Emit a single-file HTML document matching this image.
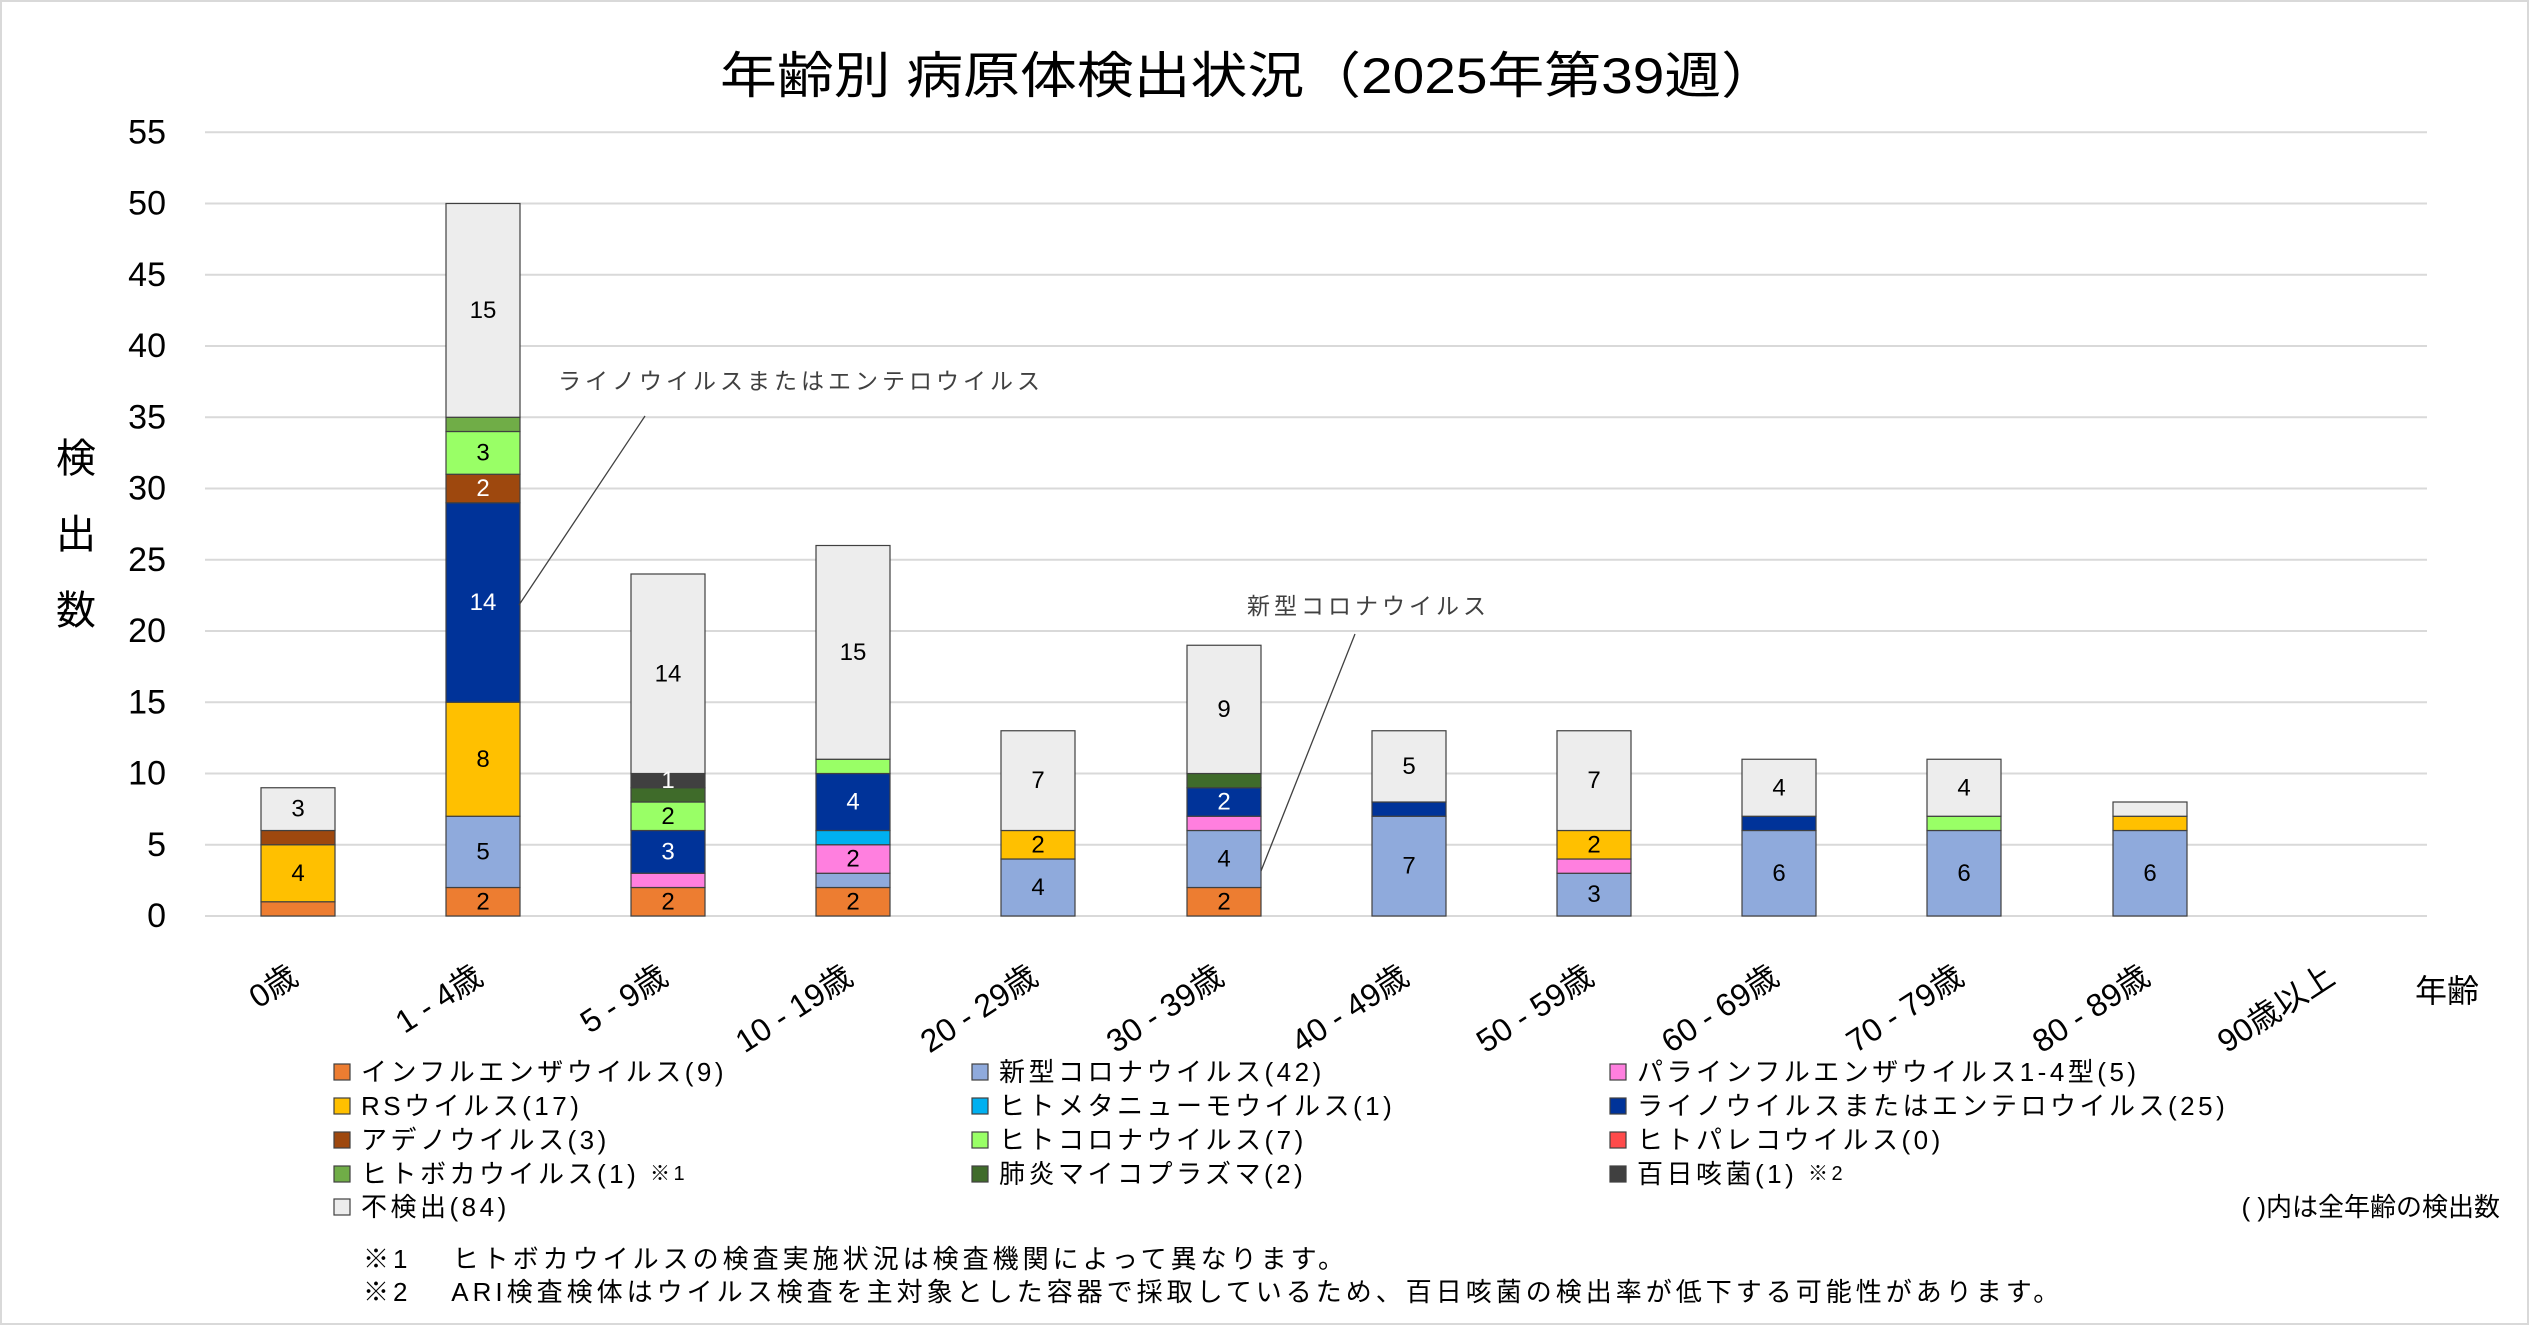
<!DOCTYPE html>
<html><head><meta charset="utf-8"><style>
html,body{margin:0;padding:0;background:#fff}
svg{display:block}
text{font-family:"Liberation Sans","Noto Sans CJK JP",sans-serif}
</style></head><body>
<svg width="2529" height="1325" viewBox="0 0 2529 1325" xmlns="http://www.w3.org/2000/svg">
<rect x="0" y="0" width="2529" height="1325" fill="#fff"/>
<rect x="1" y="1" width="2527" height="1323" fill="none" stroke="#d9d9d9" stroke-width="2"/>
<text x="1249" y="93" font-size="50" text-anchor="middle" fill="#000" textLength="1058" lengthAdjust="spacingAndGlyphs">年齢別 病原体検出状況（2025年第39週）</text>
<g stroke="#d9d9d9" stroke-width="2">
<line x1="205" x2="2427" y1="916" y2="916"/><line x1="205" x2="2427" y1="844.75" y2="844.75"/>
<line x1="205" x2="2427" y1="773.5" y2="773.5"/><line x1="205" x2="2427" y1="702.25" y2="702.25"/>
<line x1="205" x2="2427" y1="631" y2="631"/><line x1="205" x2="2427" y1="559.75" y2="559.75"/>
<line x1="205" x2="2427" y1="488.5" y2="488.5"/><line x1="205" x2="2427" y1="417.25" y2="417.25"/>
<line x1="205" x2="2427" y1="346" y2="346"/><line x1="205" x2="2427" y1="274.75" y2="274.75"/>
<line x1="205" x2="2427" y1="203.5" y2="203.5"/><line x1="205" x2="2427" y1="132.25" y2="132.25"/>
</g>
<g font-size="34" text-anchor="end" fill="#000" dominant-baseline="central">
<text x="166" y="916">0</text><text x="166" y="844.75">5</text><text x="166" y="773.5">10</text>
<text x="166" y="702.25">15</text><text x="166" y="631">20</text><text x="166" y="559.75">25</text>
<text x="166" y="488.5">30</text><text x="166" y="417.25">35</text><text x="166" y="346">40</text>
<text x="166" y="274.75">45</text><text x="166" y="203.5">50</text><text x="166" y="132.25">55</text>
</g>
<g font-size="40" text-anchor="middle" fill="#000">
<text x="76" y="472">検</text><text x="76" y="548">出</text><text x="76" y="624">数</text>
</g>
<g stroke="#404040" stroke-width="1.2">
<rect x="261" y="901.75" width="74" height="14.25" fill="#ED7D31"/>
<rect x="261" y="844.75" width="74" height="57" fill="#FFC000"/>
<rect x="261" y="830.5" width="74" height="14.25" fill="#9E480E"/>
<rect x="261" y="787.75" width="74" height="42.75" fill="#EDEDED"/>
<rect x="446" y="887.5" width="74" height="28.5" fill="#ED7D31"/>
<rect x="446" y="816.25" width="74" height="71.25" fill="#8FAADC"/>
<rect x="446" y="702.25" width="74" height="114" fill="#FFC000"/>
<rect x="446" y="502.75" width="74" height="199.5" fill="#003399"/>
<rect x="446" y="474.25" width="74" height="28.5" fill="#9E480E"/>
<rect x="446" y="431.5" width="74" height="42.75" fill="#99FF66"/>
<rect x="446" y="417.25" width="74" height="14.25" fill="#70AD47"/>
<rect x="446" y="203.5" width="74" height="213.75" fill="#EDEDED"/>
<rect x="631" y="887.5" width="74" height="28.5" fill="#ED7D31"/>
<rect x="631" y="873.25" width="74" height="14.25" fill="#FF7FDF"/>
<rect x="631" y="830.5" width="74" height="42.75" fill="#003399"/>
<rect x="631" y="802" width="74" height="28.5" fill="#99FF66"/>
<rect x="631" y="787.75" width="74" height="14.25" fill="#3F6B2A"/>
<rect x="631" y="773.5" width="74" height="14.25" fill="#404040"/>
<rect x="631" y="574" width="74" height="199.5" fill="#EDEDED"/>
<rect x="816" y="887.5" width="74" height="28.5" fill="#ED7D31"/>
<rect x="816" y="873.25" width="74" height="14.25" fill="#8FAADC"/>
<rect x="816" y="844.75" width="74" height="28.5" fill="#FF7FDF"/>
<rect x="816" y="830.5" width="74" height="14.25" fill="#00B0F0"/>
<rect x="816" y="773.5" width="74" height="57" fill="#003399"/>
<rect x="816" y="759.25" width="74" height="14.25" fill="#99FF66"/>
<rect x="816" y="545.5" width="74" height="213.75" fill="#EDEDED"/>
<rect x="1001" y="859" width="74" height="57" fill="#8FAADC"/>
<rect x="1001" y="830.5" width="74" height="28.5" fill="#FFC000"/>
<rect x="1001" y="730.75" width="74" height="99.75" fill="#EDEDED"/>
<rect x="1187" y="887.5" width="74" height="28.5" fill="#ED7D31"/>
<rect x="1187" y="830.5" width="74" height="57" fill="#8FAADC"/>
<rect x="1187" y="816.25" width="74" height="14.25" fill="#FF7FDF"/>
<rect x="1187" y="787.75" width="74" height="28.5" fill="#003399"/>
<rect x="1187" y="773.5" width="74" height="14.25" fill="#3F6B2A"/>
<rect x="1187" y="645.25" width="74" height="128.25" fill="#EDEDED"/>
<rect x="1372" y="816.25" width="74" height="99.75" fill="#8FAADC"/>
<rect x="1372" y="802" width="74" height="14.25" fill="#003399"/>
<rect x="1372" y="730.75" width="74" height="71.25" fill="#EDEDED"/>
<rect x="1557" y="873.25" width="74" height="42.75" fill="#8FAADC"/>
<rect x="1557" y="859" width="74" height="14.25" fill="#FF7FDF"/>
<rect x="1557" y="830.5" width="74" height="28.5" fill="#FFC000"/>
<rect x="1557" y="730.75" width="74" height="99.75" fill="#EDEDED"/>
<rect x="1742" y="830.5" width="74" height="85.5" fill="#8FAADC"/>
<rect x="1742" y="816.25" width="74" height="14.25" fill="#003399"/>
<rect x="1742" y="759.25" width="74" height="57" fill="#EDEDED"/>
<rect x="1927" y="830.5" width="74" height="85.5" fill="#8FAADC"/>
<rect x="1927" y="816.25" width="74" height="14.25" fill="#99FF66"/>
<rect x="1927" y="759.25" width="74" height="57" fill="#EDEDED"/>
<rect x="2113" y="830.5" width="74" height="85.5" fill="#8FAADC"/>
<rect x="2113" y="816.25" width="74" height="14.25" fill="#FFC000"/>
<rect x="2113" y="802" width="74" height="14.25" fill="#EDEDED"/>
</g>
<g font-size="24" text-anchor="middle" dominant-baseline="central" fill="#000">
<text x="298" y="873.25">4</text><text x="298" y="809">3</text>
<text x="483" y="901.75">2</text><text x="483" y="852">5</text><text x="483" y="759.25">8</text>
<text x="483" y="602.5" fill="#fff">14</text><text x="483" y="488.5" fill="#fff">2</text>
<text x="483" y="453">3</text><text x="483" y="310.4">15</text>
<text x="668" y="901.75">2</text><text x="668" y="852" fill="#fff">3</text><text x="668" y="816.25">2</text>
<text x="668" y="780.6" fill="#fff">1</text><text x="668" y="673.75">14</text>
<text x="853" y="901.75">2</text><text x="853" y="859">2</text><text x="853" y="802" fill="#fff">4</text>
<text x="853" y="652.4">15</text>
<text x="1038" y="887.5">4</text><text x="1038" y="844.75">2</text><text x="1038" y="780.6">7</text>
<text x="1224" y="901.75">2</text><text x="1224" y="859">4</text><text x="1224" y="802" fill="#fff">2</text>
<text x="1224" y="709.4">9</text>
<text x="1409" y="866.1">7</text><text x="1409" y="766.4">5</text>
<text x="1594" y="894.6">3</text><text x="1594" y="844.75">2</text><text x="1594" y="780.6">7</text>
<text x="1779" y="873.25">6</text><text x="1779" y="787.75">4</text>
<text x="1964" y="873.25">6</text><text x="1964" y="787.75">4</text>
<text x="2150" y="873.25">6</text>
</g>
<g stroke="#404040" stroke-width="1.3">
<line x1="645" y1="416" x2="519" y2="605"/>
<line x1="1355" y1="634" x2="1261" y2="871"/>
</g>
<g font-size="23" fill="#404040">
<text x="558" y="389" letter-spacing="4">ライノウイルスまたはエンテロウイルス</text>
<text x="1247" y="614" letter-spacing="4">新型コロナウイルス</text>
</g>
<g font-size="32" text-anchor="end" fill="#000">
<text transform="translate(300,982) rotate(-33)">0歳</text>
<text transform="translate(485,982) rotate(-33)">1 - 4歳</text>
<text transform="translate(670,982) rotate(-33)">5 - 9歳</text>
<text transform="translate(855,982) rotate(-33)">10 - 19歳</text>
<text transform="translate(1040,982) rotate(-33)">20 - 29歳</text>
<text transform="translate(1226,982) rotate(-33)">30 - 39歳</text>
<text transform="translate(1411,982) rotate(-33)">40 - 49歳</text>
<text transform="translate(1596,982) rotate(-33)">50 - 59歳</text>
<text transform="translate(1781,982) rotate(-33)">60 - 69歳</text>
<text transform="translate(1966,982) rotate(-33)">70 - 79歳</text>
<text transform="translate(2152,982) rotate(-33)">80 - 89歳</text>
<text transform="translate(2337,982) rotate(-33)">90歳以上</text>
</g>
<text x="2447" y="1002" font-size="32" text-anchor="middle" fill="#000">年齢</text>
<g stroke="#404040" stroke-width="1.2">
<rect x="334" y="1064" width="16" height="16" fill="#ED7D31"/>
<rect x="334" y="1098" width="16" height="16" fill="#FFC000"/>
<rect x="334" y="1132" width="16" height="16" fill="#9E480E"/>
<rect x="334" y="1166" width="16" height="16" fill="#70AD47"/>
<rect x="334" y="1199" width="16" height="16" fill="#EDEDED"/>
<rect x="972" y="1064" width="16" height="16" fill="#8FAADC"/>
<rect x="972" y="1098" width="16" height="16" fill="#00B0F0"/>
<rect x="972" y="1132" width="16" height="16" fill="#99FF66"/>
<rect x="972" y="1166" width="16" height="16" fill="#3F6B2A"/>
<rect x="1610" y="1064" width="16" height="16" fill="#FF7FDF"/>
<rect x="1610" y="1098" width="16" height="16" fill="#003399"/>
<rect x="1610" y="1132" width="16" height="16" fill="#FF4B4B"/>
<rect x="1610" y="1166" width="16" height="16" fill="#404040"/>
</g>
<g font-size="26" fill="#000" dominant-baseline="central" letter-spacing="3.5">
<text x="361" y="1072">インフルエンザウイルス(9)</text>
<text x="361" y="1106">RSウイルス(17)</text>
<text x="361" y="1140">アデノウイルス(3)</text>
<text x="361" y="1174">ヒトボカウイルス(1) <tspan font-size="20">※1</tspan></text>
<text x="361" y="1207">不検出(84)</text>
<text x="999" y="1072">新型コロナウイルス(42)</text>
<text x="999" y="1106">ヒトメタニューモウイルス(1)</text>
<text x="999" y="1140">ヒトコロナウイルス(7)</text>
<text x="999" y="1174">肺炎マイコプラズマ(2)</text>
<text x="1637" y="1072">パラインフルエンザウイルス1-4型(5)</text>
<text x="1637" y="1106">ライノウイルスまたはエンテロウイルス(25)</text>
<text x="1637" y="1140">ヒトパレコウイルス(0)</text>
<text x="1637" y="1174">百日咳菌(1) <tspan font-size="20">※2</tspan></text>
<text x="2500" y="1207" text-anchor="end" letter-spacing="0">( )内は全年齢の検出数</text>
</g>
<g font-size="26" fill="#000" dominant-baseline="central" letter-spacing="4">
<text x="363" y="1259">※1　 ヒトボカウイルスの検査実施状況は検査機関によって異なります。</text>
<text x="363" y="1292">※2　 ARI検査検体はウイルス検査を主対象とした容器で採取しているため、百日咳菌の検出率が低下する可能性があります。</text>
</g>
</svg>
</body></html>
